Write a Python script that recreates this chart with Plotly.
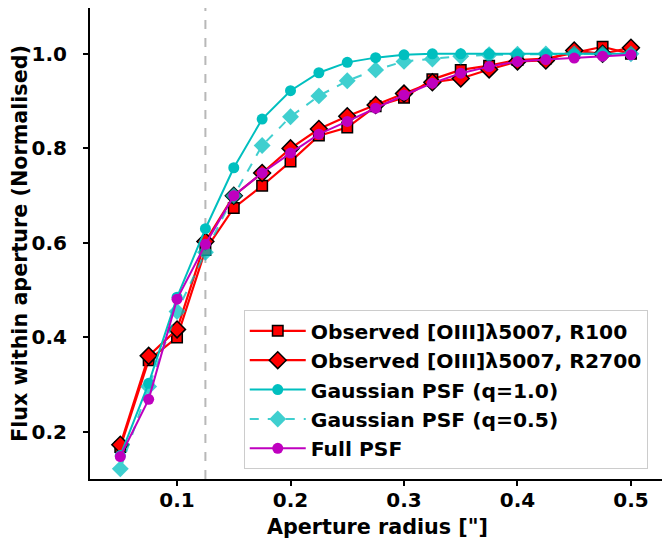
import plotly.graph_objects as go

radius = [0.05, 0.075, 0.1, 0.125, 0.15, 0.175, 0.2, 0.225, 0.25, 0.275,
          0.3, 0.325, 0.35, 0.375, 0.4, 0.425, 0.45, 0.475, 0.5]

obs_r100 = [0.168, 0.352, 0.400, 0.585, 0.674, 0.721, 0.772, 0.827, 0.844, 0.889,
            0.907, 0.946, 0.966, 0.975, 0.987, 0.990, 1.002, 1.015, 1.000]
obs_r2700 = [0.173, 0.361, 0.417, 0.603, 0.700, 0.748, 0.800, 0.841, 0.868, 0.892,
             0.916, 0.940, 0.948, 0.967, 0.984, 0.986, 1.007, 1.000, 1.013]
gauss_q10 = [0.150, 0.303, 0.485, 0.630, 0.759, 0.862, 0.922, 0.960, 0.982, 0.992,
             0.998, 1.000, 1.000, 1.000, 1.000, 1.000, 1.000, 1.000, 1.000]
gauss_q05 = [0.122, 0.296, 0.455, 0.580, 0.700, 0.806, 0.867, 0.911, 0.943, 0.966,
             0.984, 0.989, 0.995, 0.998, 0.999, 1.000, 1.000, 1.000, 1.000]
full_psf = [0.148, 0.269, 0.481, 0.597, 0.700, 0.748, 0.790, 0.830, 0.857, 0.885,
            0.913, 0.938, 0.959, 0.973, 0.984, 0.988, 0.991, 0.995, 0.998]

names = ["Observed [OIII]λ5007, R100", "Observed [OIII]λ5007, R2700",
         "Gaussian PSF (q=1.0)", "Gaussian PSF (q=0.5)", "Full PSF"]
psf_fwhm_line = 0.125

fig = go.Figure()
fig.add_vline(x=psf_fwhm_line, line=dict(color="#b8b8b8", width=2, dash="dash"), layer="below")

fig.add_trace(go.Scatter(x=radius, y=obs_r100, name=names[0], mode="lines+markers",
                         line=dict(color="#ff0000", width=2.2),
                         marker=dict(symbol="square", size=10.5, color="#ff0000",
                                     line=dict(color="black", width=1.5))))
fig.add_trace(go.Scatter(x=radius, y=obs_r2700, name=names[1], mode="lines+markers",
                         line=dict(color="#ff0000", width=2.2),
                         marker=dict(symbol="diamond", size=13, color="#ff0000",
                                     line=dict(color="black", width=1.5))))
fig.add_trace(go.Scatter(x=radius, y=gauss_q10, name=names[2], mode="lines+markers",
                         line=dict(color="#00bfbf", width=2),
                         marker=dict(symbol="circle", size=11, color="#00bfbf")))
fig.add_trace(go.Scatter(x=radius, y=gauss_q05, name=names[3], mode="lines+markers",
                         opacity=0.75,
                         line=dict(color="#00bfbf", width=2, dash="dash"),
                         marker=dict(symbol="diamond", size=13, color="#00bfbf")))
fig.add_trace(go.Scatter(x=radius, y=full_psf, name=names[4], mode="lines+markers",
                         line=dict(color="#bf00bf", width=2),
                         marker=dict(symbol="circle", size=11, color="#bf00bf")))

axis_common = dict(showgrid=False, zeroline=False, showline=True, linecolor="black",
                   linewidth=2, mirror=True, ticks="outside", ticklen=5, tickwidth=1.5,
                   tickcolor="black", automargin=False,
                   tickfont=dict(family="DejaVu Sans", size=20, color="black", weight="bold"))

title_font = dict(family="DejaVu Sans", size=20.7, color="black", weight="bold")

# page body has an 8px margin, so the figure is offset by 8px in the window
fig.update_layout(
    width=662, height=531,
    margin=dict(l=82, r=5, t=0, b=60),
    plot_bgcolor="white", paper_bgcolor="white",
    font=dict(family="DejaVu Sans", color="black"),
    xaxis=dict(range=[0.0233, 0.530], tickvals=[0.1, 0.2, 0.3, 0.4, 0.5],
               ticktext=["0.1", "0.2", "0.3", "0.4", "0.5"], ticklabelstandoff=-3,
               title=dict(text="Aperture radius [\"]", standoff=9, font=title_font),
               **axis_common),
    yaxis=dict(range=[0.1005, 1.097], tickvals=[0.2, 0.4, 0.6, 0.8, 1.0],
               ticktext=["0.2", "0.4", "0.6", "0.8", "1.0"], ticklabelstandoff=12,
               title=dict(text="Flux within aperture (Normalised)", standoff=0, font=title_font),
               **axis_common),
    legend=dict(x=0.970, y=0.021, xanchor="right", yanchor="bottom",
                bgcolor="rgba(255,255,255,0.85)", bordercolor="#cccccc", borderwidth=1,
                font=dict(family="DejaVu Sans", size=20.3, color="black", weight="bold"),
                tracegroupgap=0, itemwidth=56),
    showlegend=True,
)

fig.write_html("out.html")
